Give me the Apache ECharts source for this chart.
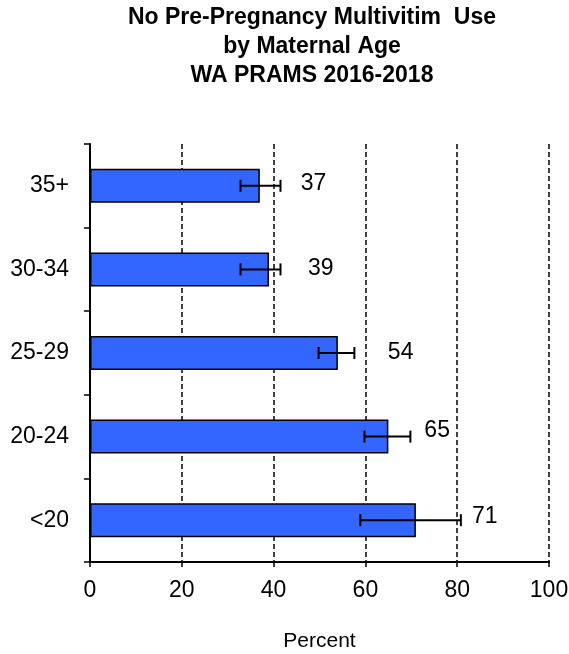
<!DOCTYPE html>
<html>
<head>
<meta charset="utf-8">
<script src="https://cdn.jsdelivr.net/npm/echarts@6/dist/echarts.min.js"></script>
<style>
  html, body { margin: 0; padding: 0; background: #fff; }
  #chart { width: 569px; height: 654px; }
</style>
</head>
<body>
<div id="chart"></div>
<script>
  // 数据
  const ageGroups = ['<20', '20-24', '25-29', '30-34', '35+']
  const percents = [71, 65, 54, 39, 37]
  const ciLow = [58.9, 59.8, 49.8, 32.8, 32.8]
  const ciHigh = [80.8, 69.8, 57.6, 41.5, 41.5]
  const xTicks = [0, 20, 40, 60, 80, 100]
  const titleLines = ['No Pre-Pregnancy Multivitim  Use', 'by Maternal Age', 'WA PRAMS 2016-2018']

  // 数值标签的偏移 (样式)
  const labelShift = [[51, -4], [31, -6], [45, 0], [34, -1], [36, -2]]

  const font = '"Liberation Sans", Arial, sans-serif'
  const chart = echarts.init(document.getElementById('chart'))

  chart.setOption({
    animation: false,
    graphic: [
      {
        // 标题 (略偏右居中)
        type: 'text',
        x: 312,
        y: 3,
        style: {
          text: titleLines.join('\n'),
          align: 'center',
          verticalAlign: 'top',
          fontFamily: font,
          fontSize: 23,
          fontWeight: 'bold',
          lineHeight: 29,
          fill: '#000'
        }
      }
    ],
    grid: {
      left: 90,
      right: 20,
      top: 144,
      bottom: 92,
      containLabel: false,
      outerBoundsMode: 'none'
    },
    xAxis: {
      type: 'value',
      min: xTicks[0],
      max: xTicks[xTicks.length - 1],
      interval: 20,
      name: 'Percent',
      nameLocation: 'middle',
      nameGap: 69,
      nameTextStyle: { fontFamily: font, fontSize: 21, color: '#000' },
      axisLine: { show: true, lineStyle: { color: '#000', width: 2 } },
      axisTick: { show: true, length: 5, lineStyle: { color: '#000', width: 1.5 } },
      axisLabel: { margin: 17, fontFamily: font, fontSize: 23, color: '#000' },
      splitLine: {
        show: true,
        lineStyle: { color: '#000', width: 1.5, type: [5, 3] }
      }
    },
    yAxis: {
      type: 'category',
      data: ageGroups,
      axisLine: { show: true, lineStyle: { color: '#000', width: 2 } },
      axisTick: { show: true, length: 6, lineStyle: { color: '#000', width: 1.5 } },
      axisLabel: { margin: 21, fontFamily: font, fontSize: 23, color: '#000' },
      splitLine: { show: false }
    },
    series: [
      {
        type: 'bar',
        barWidth: 34,
        data: percents.map((v, i) => ({
          value: v,
          label: { offset: labelShift[i] }
        })),
        itemStyle: { color: '#3366FF', borderColor: '#000', borderWidth: 1.5 },
        label: {
          show: true,
          position: 'right',
          distance: 5,
          fontFamily: font,
          fontSize: 23,
          color: '#000'
        },
        z: 2
      },
      {
        // 误差线
        type: 'custom',
        data: ageGroups.map((g, i) => [i, ciLow[i], ciHigh[i]]),
        renderItem: function (params, api) {
          const idx = api.value(0)
          const lo = api.coord([api.value(1), idx])
          const hi = api.coord([api.value(2), idx])
          const h = 6
          const style = { stroke: '#000', lineWidth: 2 }
          return {
            type: 'group',
            children: [
              { type: 'line', shape: { x1: lo[0], y1: lo[1], x2: hi[0], y2: hi[1] }, style: style },
              { type: 'line', shape: { x1: lo[0], y1: lo[1] - h, x2: lo[0], y2: lo[1] + h }, style: style },
              { type: 'line', shape: { x1: hi[0], y1: hi[1] - h, x2: hi[0], y2: hi[1] + h }, style: style }
            ]
          }
        },
        z: 3
      }
    ]
  })
</script>
</body>
</html>
